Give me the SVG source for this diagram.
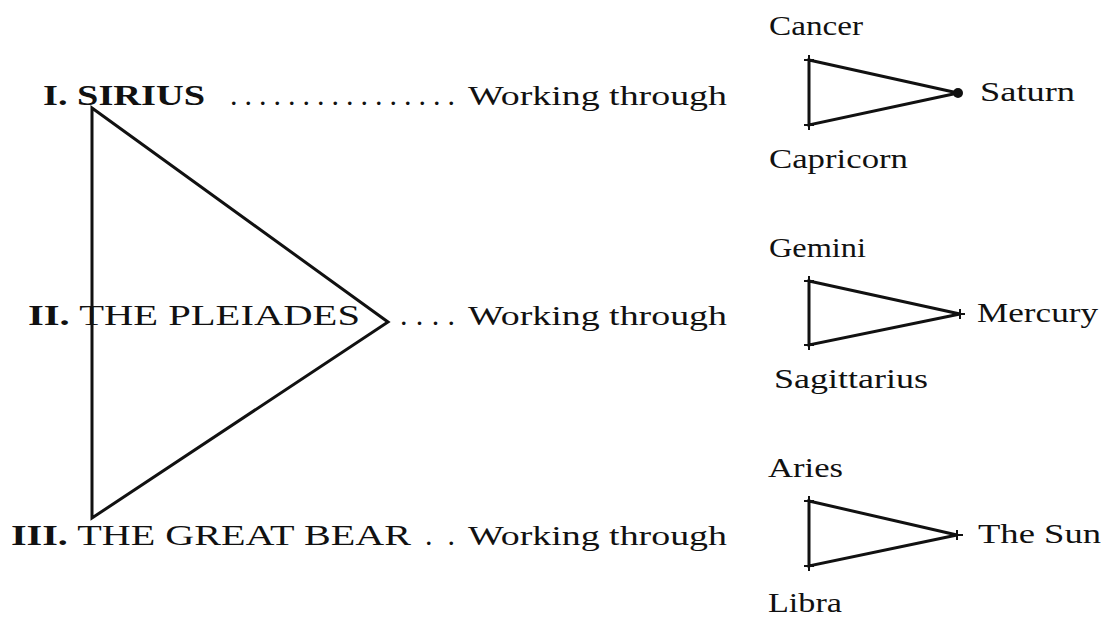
<svg xmlns="http://www.w3.org/2000/svg" width="1104" height="618" viewBox="0 0 1104 618">
<style>
.t{font-family:"Liberation Serif","DejaVu Serif",serif;fill:#111;}
.main{font-size:30px;}
.b{font-weight:bold;}
.wt{font-size:28px;}
.lb{font-size:27px;}
.edge{fill:none;stroke:#111;stroke-width:3;stroke-linejoin:miter;}
.star{stroke:#111;stroke-width:2;}
</style>
<rect width="1104" height="618" fill="#fff"/>
<g id="connectors">
<polygon class="edge" points="92,108 388,322 92,518"/>
<polygon class="edge" points="809,60 958,93 809,125"/>
<polygon class="edge" points="809,281 960,314 809,345"/>
<polygon class="edge" points="809,501 957,535 809,566"/>
</g>
<g id="sirius">
<text class="t main b" x="43" y="105" textLength="162" lengthAdjust="spacingAndGlyphs">I. SIRIUS</text>
<text class="t main" x="230" y="105" textLength="225" lengthAdjust="spacing">................</text>
<text class="t wt" x="468" y="105" textLength="259" lengthAdjust="spacingAndGlyphs">Working  through</text>
</g>
<g id="pleiades">
<text class="t main" x="28" y="325" textLength="332" lengthAdjust="spacingAndGlyphs"><tspan class="b">II.</tspan> THE  PLEIADES</text>
<text class="t main" x="400" y="325" textLength="55" lengthAdjust="spacing">....</text>
<text class="t wt" x="468" y="325" textLength="259" lengthAdjust="spacingAndGlyphs">Working  through</text>
</g>
<g id="great-bear">
<text class="t main" x="11" y="545" textLength="400" lengthAdjust="spacingAndGlyphs"><tspan class="b">III.</tspan> THE GREAT BEAR</text>
<text class="t main" x="425" y="545" textLength="30" lengthAdjust="spacing">..</text>
<text class="t wt" x="468" y="545" textLength="259" lengthAdjust="spacingAndGlyphs">Working  through</text>
</g>
<g id="triad-saturn">
<text class="t lb" x="769" y="35" textLength="94" lengthAdjust="spacingAndGlyphs">Cancer</text>
<text class="t lb" x="769" y="168" textLength="139" lengthAdjust="spacingAndGlyphs">Capricorn</text>
<text class="t lb" x="980" y="101" textLength="95" lengthAdjust="spacingAndGlyphs">Saturn</text>
<circle cx="958" cy="93" r="5" fill="#111"/>
<path class="star" d="M804,60h10M809,55v10M804,125h10M809,120v10"/>
</g>
<g id="triad-mercury">
<text class="t lb" x="769" y="257" textLength="97" lengthAdjust="spacingAndGlyphs">Gemini</text>
<text class="t lb" x="774" y="388" textLength="154" lengthAdjust="spacingAndGlyphs">Sagittarius</text>
<text class="t lb" x="977" y="322" textLength="121" lengthAdjust="spacingAndGlyphs">Mercury</text>
<path class="star" d="M804,281h10M809,276v10M804,345h10M809,340v10M954,314h11M960,309v10"/>
</g>
<g id="triad-sun">
<text class="t lb" x="768" y="477" textLength="75" lengthAdjust="spacingAndGlyphs">Aries</text>
<text class="t lb" x="768" y="612" textLength="74" lengthAdjust="spacingAndGlyphs">Libra</text>
<text class="t lb" x="978" y="543" textLength="123" lengthAdjust="spacingAndGlyphs">The Sun</text>
<path class="star" d="M804,501h10M809,496v10M804,566h10M809,561v10M952,535h11M957,530v10"/>
</g>
</svg>
